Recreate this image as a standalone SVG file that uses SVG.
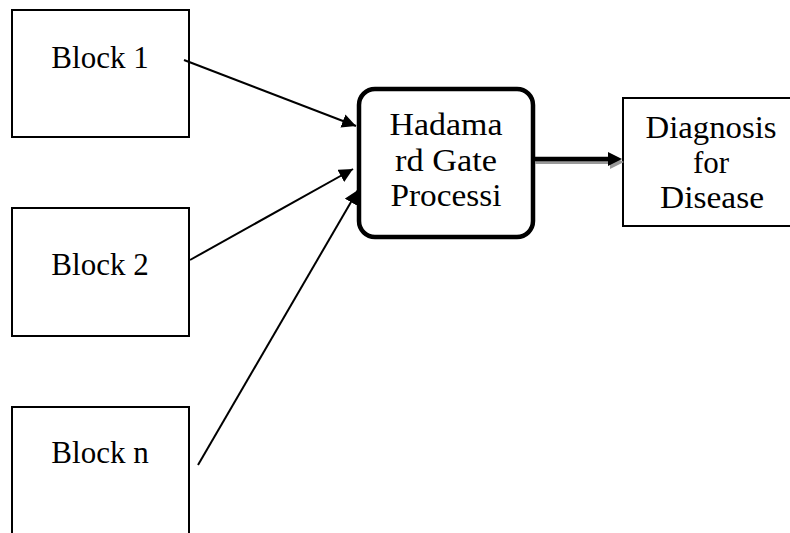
<svg xmlns="http://www.w3.org/2000/svg" width="790" height="533" viewBox="0 0 790 533">
<defs>
<style>
.box{fill:#fff;stroke:#000;stroke-width:2}
.hbox{fill:#fff;stroke:#000;stroke-width:4.5}
.t{font-family:"Liberation Serif","Times New Roman",serif;font-size:31px;fill:#000;text-anchor:middle}
.c{stroke:#000;stroke-width:2;fill:none}
</style>
<marker id="ah" viewBox="0 0 14 14" refX="14" refY="7" markerWidth="14" markerHeight="14" markerUnits="userSpaceOnUse" orient="auto">
<path d="M0,0 L14,7 L0,14 Z" fill="#000"/>
</marker>
</defs>
<rect width="790" height="533" fill="#fff"/>
<g id="block1"><rect class="box" x="12" y="10" width="177" height="127"/><text class="t" x="100" y="68">Block 1</text></g>
<g id="block2"><rect class="box" x="12" y="208" width="177" height="128"/><text class="t" x="100" y="275">Block 2</text></g>
<g id="blockn"><rect class="box" x="12" y="407" width="177" height="140"/><text class="t" x="100" y="463">Block n</text></g>
<g id="hadamard"><rect class="hbox" x="359" y="89" width="174" height="148" rx="16"/>
<text class="t" x="446" y="135" textLength="113" lengthAdjust="spacingAndGlyphs">Hadama</text><text class="t" x="446" y="171" textLength="102" lengthAdjust="spacingAndGlyphs">rd Gate</text><text class="t" x="446" y="206" textLength="111" lengthAdjust="spacingAndGlyphs">Processi</text></g>
<g id="diagnosis"><rect class="box" x="623" y="98" width="180" height="128"/>
<text class="t" x="711" y="138" textLength="131" lengthAdjust="spacingAndGlyphs">Diagnosis</text><text class="t" x="711" y="173">for</text><text class="t" x="712" y="208" textLength="104" lengthAdjust="spacingAndGlyphs">Disease</text></g>
<g id="connectors">
<line class="c" x1="184" y1="60" x2="356" y2="126" marker-end="url(#ah)"/>
<line class="c" x1="190" y1="260" x2="353" y2="169" marker-end="url(#ah)"/>
<line class="c" x1="198" y1="465" x2="358" y2="190" marker-end="url(#ah)"/>
<line x1="535" y1="162" x2="612" y2="162" stroke="#999" stroke-width="4"/>
<path d="M610,155 L624,162 L610,169 Z" fill="#999"/>
<line x1="535" y1="159" x2="612" y2="159" stroke="#000" stroke-width="4.5"/>
<path d="M608,152 L622,159 L608,166 Z" fill="#000"/>
</g>
</svg>
